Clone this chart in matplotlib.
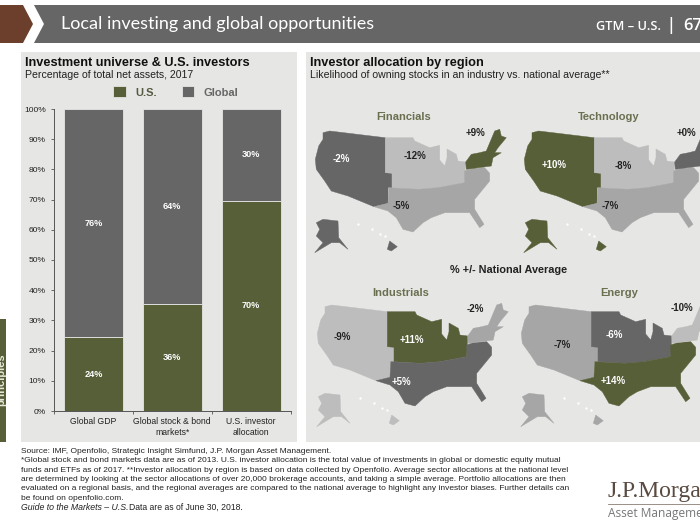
import matplotlib
matplotlib.use('Agg')
import matplotlib.pyplot as plt
from matplotlib.patches import Polygon, Rectangle

plt.rcParams['font.family'] = ['Liberation Sans', 'DejaVu Sans']

OLIVE = '#575f38'
DARK = '#666666'
MID = '#a6a6a6'
LIGHT = '#bdbdbd'
PANEL = '#e6e6e4'

# left chart
categories = ['Global GDP', 'Global stock & bond\nmarkets*', 'U.S. investor\nallocation']
us_values = [24.4, 35.4, 69.6]
global_values = [75.6, 64.6, 30.4]
us_labels = ['24%', '36%', '70%']
global_labels = ['76%', '64%', '30%']
y_ticks = list(range(0, 101, 10))

# maps: west, midwest, south, northeast
sectors = ['Financials', 'Technology', 'Industrials', 'Energy']
financials = [-2, -12, -5, 9]
technology = [10, -8, -7, 0]
industrials = [-9, 11, 5, -2]
energy = [-7, -6, 14, -10]
sector_values = [financials, technology, industrials, energy]

footer_lines = [
    'Source: IMF, Openfolio, Strategic Insight Simfund, J.P. Morgan Asset Management.',
    '*Global stock and bond markets data are as of 2013. U.S. investor allocation is the total value of investments in global or domestic equity mutual',
    'funds and ETFs as of 2017. **Investor allocation by region is based on data collected by Openfolio. Average sector allocations at the national level',
    'are determined by looking at the sector allocations of over 20,000 brokerage accounts, and taking a simple average. Portfolio allocations are then',
    'evaluated on a regional basis, and the regional averages are compared to the national average to highlight any investor biases. Further details can',
    'be found on openfolio.com.',
]

# rough outline of the regions, in page pixels for the top left map
WEST = [(323, 132.7), (329.7, 131), (385.3, 137.7), (385.3, 172.7), (392, 173.3), (392, 187.7), (388, 187.7),
        (388, 203.3), (374, 206.7), (348, 196), (331.3, 191), (324.7, 181), (316.3, 169.3), (315.3, 159.3),
        (318.7, 146), (323, 139.3)]
MIDWEST = [(385.3, 137.7), (413, 137.7), (414.7, 141), (429.7, 147.7), (439.7, 145.3), (439.7, 160), (444.7, 166),
           (447, 157.7), (447, 149), (456.3, 154.3), (458, 161), (465.7, 162), (464.7, 182.7), (438, 187.7),
           (418.7, 189.3), (392, 187.7), (392, 173.3), (385.3, 172.7)]
SOUTH = [(388.7, 187.7), (418.7, 189.3), (438, 187.7), (464.7, 182.7), (464.7, 171), (471.3, 168.7), (484.7, 167.7),
         (489.7, 173.3), (489.7, 181), (474.7, 199.3), (474.7, 209.3), (484, 224.3), (479.7, 227.7), (469.7, 212.7),
         (444.7, 212.7), (431.3, 217.7), (423, 222.7), (413, 232), (403, 229.3), (396.3, 217.7), (388, 211),
         (374, 206.7), (388, 203.3)]
NORTHEAST = [(465.7, 162), (471.3, 154.3), (479.7, 152.7), (486.3, 151), (494.7, 131), (499.7, 129.3), (501.3, 136),
             (506.3, 137.7), (498, 147.7), (494.7, 152.7), (501.3, 152.7), (493, 157.7), (491.3, 166), (466.3, 169.3)]
ALASKA = [(316.3, 222.7), (323, 219.3), (338, 221), (338.7, 237.7), (348, 249.3), (339.7, 242.7), (331.3, 242.7),
          (314.7, 252.7), (323, 242.7), (316.3, 236), (319.7, 229.3)]
HAWAII = [(389.7, 241), (397.3, 246.7), (391.3, 251), (387.3, 249.3)]
ISLANDS = [(358, 224.3), (372, 229.3), (379.7, 234.3), (384.7, 236)]

# x, y offset, title position, then label positions in the same order as the values
map_offsets = [(0, 0), (209, 0), (2, 174), (206, 174)]
title_pos = [(404, 117), (609, 117), (401, 293), (619, 293)]
label_pos = [
    [(341, 159), (415, 156), (401, 206), (476, 133)],
    [(554, 165), (623, 166), (610, 206), (686, 133)],
    [(342, 337), (412, 340), (401, 382), (475, 309)],
    [(562, 345), (614, 335), (613, 381), (682, 308)],
]


def draw_map(ax, values, offset, title, tpos, lpos):
    order = sorted(values, reverse=True)
    colors = [[OLIVE, DARK, MID, LIGHT][order.index(v)] for v in values]
    dx, dy = offset
    shapes = [WEST, MIDWEST, SOUTH, NORTHEAST]
    for shape, c in zip(shapes, colors):
        ax.add_patch(Polygon([(x + dx, y + dy) for x, y in shape], fc=c, ec=c, lw=0.3))
    for shape in [ALASKA, HAWAII]:
        ax.add_patch(Polygon([(x + dx, y + dy) for x, y in shape], fc=colors[0], ec=colors[0], lw=0.3))
    ax.scatter([x + dx for x, y in ISLANDS], [y + dy for x, y in ISLANDS], s=3, c='white', lw=0)
    ax.text(tpos[0], tpos[1], title, color='#6b6f50', fontsize=8, fontweight='bold', ha='center', va='center')
    for i, (v, c, pos) in enumerate(zip(values, colors, lpos)):
        txt = f'+{v}%' if v >= 0 else f'{v}%'
        # the northeast label sits off the map, on the panel
        tc = 'white' if c in (OLIVE, DARK) and i < 3 else '#222222'
        ax.text(pos[0], pos[1], txt, color=tc, fontsize=7, fontweight='bold', ha='center', va='center')


fig = plt.figure(figsize=(7, 5.25), dpi=100)
bg = fig.add_axes([0, 0, 1, 1])
bg.set_xlim(0, 700)
bg.set_ylim(525, 0)
bg.axis('off')

# header
bg.add_patch(Polygon([(0, 5), (23, 5), (33, 24), (23, 43), (0, 43)], fc='#6b3f2c', ec='none'))
bg.add_patch(Polygon([(34, 5), (700, 5), (700, 43), (34, 43), (44, 24)], fc=DARK, ec='none'))
bg.text(61, 24.5, 'Local investing and global opportunities', color='white', fontsize=13,
        family='Lato', va='center')
bg.text(596, 26, 'GTM – U.S.', color='white', fontsize=9.2, family='Open Sans', va='center', fontweight='semibold')
bg.text(671, 25, '|', color='white', fontsize=13, va='center', ha='center')
bg.text(683, 25.5, '67', color='white', fontsize=12, family='Open Sans', va='center', fontweight='semibold')

# panels
bg.add_patch(Rectangle((21, 52), 276, 390, fc=PANEL, ec='none'))
bg.add_patch(Rectangle((306, 52), 394, 390, fc=PANEL, ec='none'))
strip = Rectangle((0, 319), 6, 123, fc=OLIVE, ec='none')
bg.add_patch(strip)
strip_text = bg.text(1, 380, 'principles', color='#e8e8d8', fontsize=8, fontweight='bold', rotation=90,
                     ha='center', va='center')
strip_text.set_clip_path(strip)

bg.text(25, 63, 'Investment universe & U.S. investors', fontsize=9.2, fontweight='bold', color='#111111', va='center')
bg.text(25, 75.5, 'Percentage of total net assets, 2017', fontsize=7.6, color='#222222', va='center')
bg.text(310, 63, 'Investor allocation by region', fontsize=9.2, fontweight='bold', color='#111111', va='center')
bg.text(310, 75.5, 'Likelihood of owning stocks in an industry vs. national average**', fontsize=7.6,
        color='#222222', va='center')
bg.text(509, 270, '% +/- National Average', fontsize=7.8, fontweight='bold', color='#222222', ha='center', va='center')

for vals, off, name, tp, lp in zip(sector_values, map_offsets, sectors, title_pos, label_pos):
    draw_map(bg, vals, off, name, tp, lp)

# footer
y = 451.7
for line in footer_lines:
    bg.text(21, y, line, fontsize=6.0, color='#222222', va='center')
    y += 9.3
bg.text(21, 507.5, 'Guide to the Markets – U.S.', fontsize=6.3, style='italic', color='#222222', va='center')
bg.text(129, 507.5, 'Data are as of June 30, 2018.', fontsize=6.2, color='#222222', va='center')

# logo
bg.text(608, 492, 'J.P.Morgan', fontsize=17, family='Liberation Serif', color='#5a4a40', va='center')
bg.plot([608, 700], [504, 504], color='#8a7d74', lw=0.6)
bg.text(608, 513, 'Asset Management', fontsize=8.6, family='Open Sans', color='#777777', va='center')

# stacked bars
ax = fig.add_axes([54 / 700, 1 - 411 / 525, 236.5 / 700, 302 / 525])
ax.patch.set_alpha(0)
xs = list(range(len(categories)))
b1 = ax.bar(xs, us_values, width=0.75, color=OLIVE, edgecolor=PANEL, linewidth=0.6, label='U.S.')
b2 = ax.bar(xs, global_values, width=0.75, bottom=us_values, color=DARK, edgecolor=PANEL, linewidth=0.6, label='Global')
for x, u, g, ul, gl in zip(xs, us_values, global_values, us_labels, global_labels):
    ax.text(x, u / 2, ul, color='white', fontsize=6.6, fontweight='bold', ha='center', va='center')
    ax.text(x, u + g / 2, gl, color='white', fontsize=6.6, fontweight='bold', ha='center', va='center')
ax.set_xlim(-0.5, 2.5)
ax.set_ylim(0, 100)
ax.set_yticks(y_ticks)
ax.set_yticklabels([f'{t}%' for t in y_ticks], fontsize=6.1, color='#222222')
ax.set_xticks([-0.5, 0.5, 1.5, 2.5])
ax.set_xticklabels([])
ax.set_xticks(xs, minor=True)
ax.set_xticklabels(categories, minor=True, fontsize=6.2, color='#222222', linespacing=1.3)
ax.tick_params(axis='x', which='minor', length=0, pad=4)
ax.tick_params(axis='x', which='major', length=2, width=0.6, color='#555555', direction='out')
ax.tick_params(axis='y', length=2, width=0.6, color='#555555', pad=4)
for s in ['top', 'right']:
    ax.spines[s].set_visible(False)
for s in ['left', 'bottom']:
    ax.spines[s].set_linewidth(0.7)
    ax.spines[s].set_color('#555555')

leg = fig.legend(handles=[b1, b2], ncol=2, loc='center', bbox_to_anchor=(176 / 700, 1 - 92 / 525),
                 frameon=False, fontsize=8, handlelength=1.1, handleheight=1.1, columnspacing=2.2, handletextpad=0.9)
for t, c in zip(leg.get_texts(), ['#555a40', DARK]):
    t.set_color(c)
    t.set_fontweight('bold')

fig.savefig('out.png', dpi=100)
